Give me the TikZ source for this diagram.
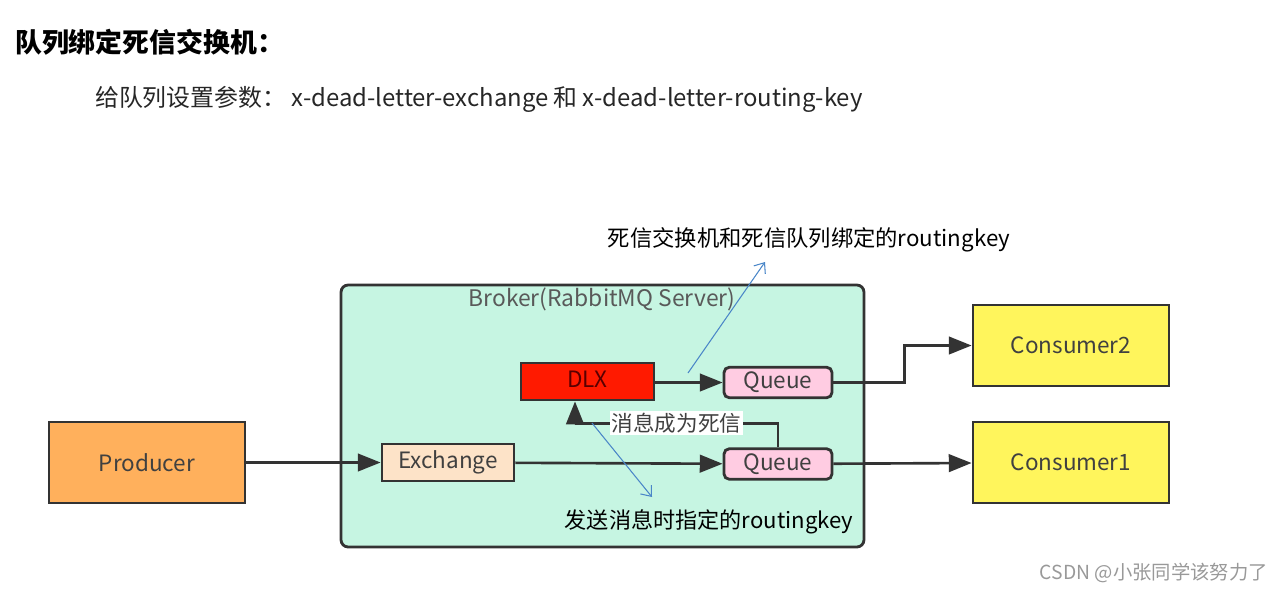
\documentclass[tikz,border=0pt]{standalone}
\usepackage{fontspec}
\setmainfont{Noto Sans CJK SC}
\usetikzlibrary{arrows.meta}

\definecolor{brokerbg}{HTML}{C6F5E2}
\definecolor{prodbg}{HTML}{FFB05C}
\definecolor{consbg}{HTML}{FFF55C}
\definecolor{exbg}{HTML}{FDE3C8}
\definecolor{queuebg}{HTML}{FFCCE2}
\definecolor{dlxbg}{HTML}{FF1A00}
\definecolor{edge}{HTML}{333333}
\definecolor{notecol}{HTML}{4A86C8}

\tikzset{
  box/.style={draw=edge, line width=1.6pt, font=\fontsize{12.8}{14}\selectfont, text=black!75},
  qbox/.style={box, rounded corners=3pt, fill=queuebg, minimum width=2.16cm, minimum height=0.61cm, inner sep=1pt},
  flow/.style={draw=edge, line width=1.5pt, -{Triangle[length=13pt,width=10pt]}},
  note/.style={draw=notecol, line width=0.6pt, -{Straight Barb[length=5pt,width=8pt]}}
}

\begin{document}
\begin{tikzpicture}[x=0.02cm, y=-0.02cm]
\useasboundingbox (0,0) rectangle (1286,593);

% headings
\node[anchor=west, font=\fontsize{15.3}{17}\selectfont\bfseries] (title) at (9,42) {队列绑定死信交换机：};
\node[anchor=west, font=\fontsize{13.6}{15}\selectfont, text=black!85] (params) at (89,99)
  {给队列设置参数：\ x-dead-letter-exchange 和 x-dead-letter-routing-key};

% broker
\node[draw=edge, line width=1.6pt, rounded corners=4pt, fill=brokerbg,
      minimum width=10.46cm, minimum height=5.24cm] (broker) at (602.5,416) {};
\node[font=\fontsize{13}{14}\selectfont, text=black!65] (brokerlbl) at (602,299) {Broker(RabbitMQ Server)};

% boxes
\node[box, fill=prodbg, minimum width=3.92cm, minimum height=1.62cm] (prod) at (147,462.5) {Producer};
\node[box, fill=exbg, minimum width=2.64cm, minimum height=0.74cm] (ex) at (448,462.5) {Exchange};
\node[box, fill=dlxbg, minimum width=2.66cm, minimum height=0.74cm, text=black!65!red, text depth=3pt] (dlx) at (587.5,381.5) {DLX};
\node[qbox] (qtop) at (778,382.5) {Queue};
\node[qbox] (qbot) at (778,464) {Queue};
\node[box, fill=consbg, minimum width=3.92cm, minimum height=1.62cm] (cons2) at (1071,345.5) {Consumer2};
\node[box, fill=consbg, minimum width=3.92cm, minimum height=1.62cm] (cons1) at (1071,462.5) {Consumer1};

% message flow
\draw[flow] (prod) -- (ex);
\draw[flow] (ex) -- (qbot);
\draw[flow] (qbot) -- (cons1);
\draw[flow] (dlx.east |- qtop) -- (qtop);
\draw[flow] (qtop.east) -- ++(71,0) |- (cons2.west);
\draw[flow] (qbot.north) -- ++(0,-24) -| node[pos=0.25, fill=white, inner sep=1pt,
  font=\fontsize{12.3}{14}\selectfont, text=black!75] (deadlbl) {消息成为死信} ([xshift=-0.25cm]dlx.south);

% routing key notes
\coordinate (rk1from) at (688,373);
\coordinate (rk1to) at (765,262);
\coordinate (rk2from) at (592,423);
\coordinate (rk2to) at (652,497);
\draw[note] (rk1from) -- (rk1to);
\draw[note] (rk2from) -- (rk2to);
\node[font=\fontsize{12.7}{14}\selectfont] (rk1lbl) at (809,240) {死信交换机和死信队列绑定的routingkey};
\node[font=\fontsize{12.6}{14}\selectfont] (rk2lbl) at (709,522) {发送消息时指定的routingkey};

% watermark
\node[anchor=east, font=\fontsize{11}{12}\selectfont, text=black!40] (mark) at (1274,573) {CSDN @小张同学该努力了};
\end{tikzpicture}
\end{document}
